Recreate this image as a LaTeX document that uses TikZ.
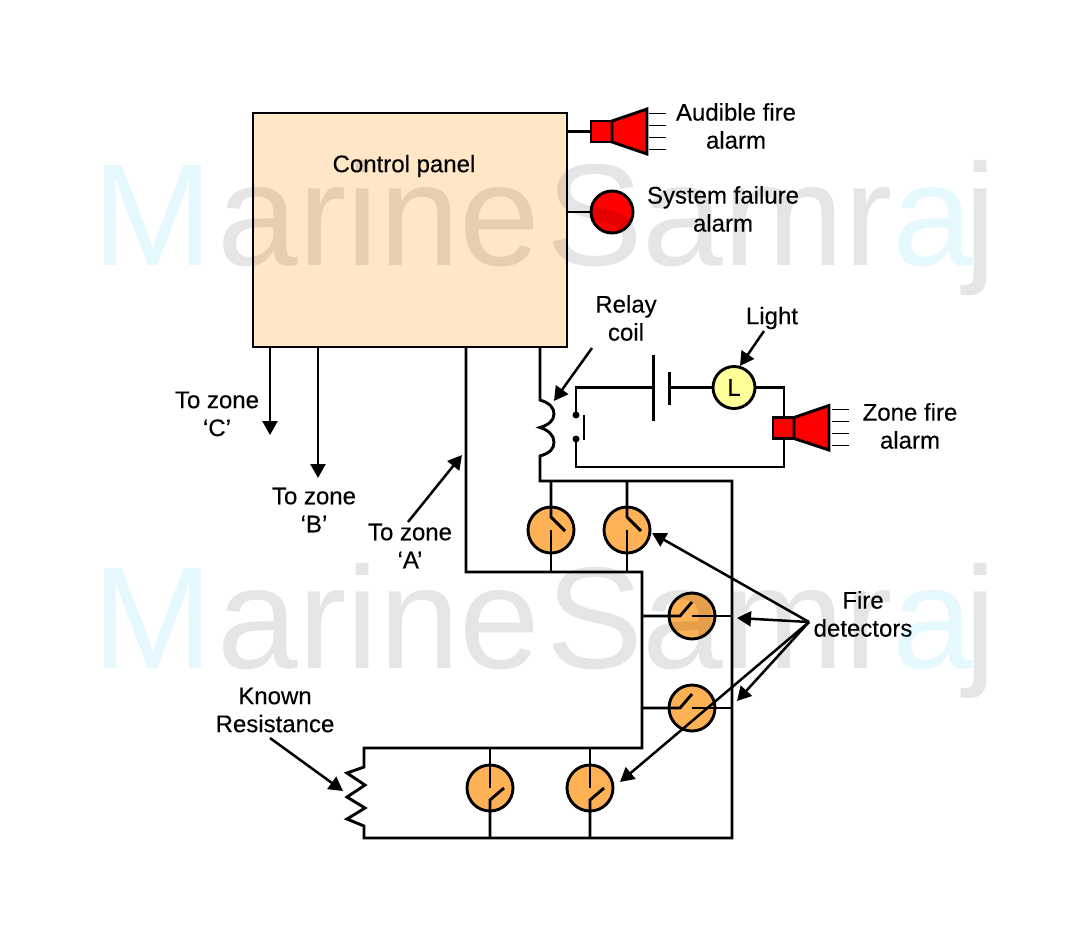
\documentclass[tikz,border=0pt]{standalone}
\usepackage{fontspec}
\setmainfont[FakeBold=0.25]{Liberation Sans}
\newfontfamily\wmfont{Liberation Sans}
\usetikzlibrary{arrows.meta,calc}
\definecolor{panelc}{HTML}{FFE6C6}
\definecolor{detc}{HTML}{FFB155}
\definecolor{lampc}{HTML}{FFFF99}
\definecolor{wmc}{HTML}{00BFEF}
\newcommand{\wmM}{\textcolor{wmc}}
\newcommand{\wmtext}{\wmM{M}\kern5pt arine\kern6pt Samr\wmM{a}\kern-9pt j}
\tikzset{
  wire/.style={line width=2.9pt,line join=miter},
  thin ray/.style={line width=1.4pt},
  ptr/.style={line width=2.5pt,-{Triangle[length=14pt,width=15pt]}},
  detector/.style={circle,draw,line width=2.9pt,fill=detc,minimum size=46pt,inner sep=0pt},
  lab/.style={align=center,font=\fontsize{24}{28}\selectfont,inner sep=0pt},
  hornbox/.style={rectangle,draw,line width=2.9pt,fill=red,minimum width=21pt,minimum height=21pt,inner sep=0pt},
  horncone/.style={draw,line width=2.9pt,fill=red,line join=miter},
  mark wm/.style={text opacity=0.1,text=black,inner sep=0pt,font=\wmfont\fontsize{145}{145}\selectfont}
}
\begin{document}
\begin{tikzpicture}[x=1pt,y=-1pt]
\useasboundingbox[fill=white] (0,0) rectangle (1084,924);
% panel
\node[draw,line width=2.9pt,fill=panelc,minimum width=314pt,minimum height=234pt,inner sep=0pt] (panel) at (410,230) {};
\node[lab] (cp) at (404,166) {Control panel};
% top horn and system failure
\node[hornbox] (hornA) at (601.5,131.5) {};
\draw[horncone] (612,121) -- (647,109) -- (647,154) -- (612,142) -- cycle;
\foreach \y in {113.5,125.5,137.5,149.5} \draw[thin ray] (649,\y) -- (666,\y);
\coordinate (pa) at (567,131.5);
\draw[wire] (pa) -- (hornA);
\node[circle,draw,line width=2.9pt,fill=red,minimum size=42pt,inner sep=0pt] (sysf) at (612,212) {};
\coordinate (pb) at (567,212);
\draw[wire] (pb) -- (sysf);
\node[lab] (audl) at (736,126) {Audible fire\\alarm};
\node[lab] (sysl) at (723,209) {System failure\\alarm};
% zones C B arrows
\coordinate (pc) at (270,347); \coordinate (zc) at (270,435);
\coordinate (pd) at (318,347); \coordinate (zb) at (318,478);
\draw[ptr] (pc) -- (zc);
\draw[ptr] (pd) -- (zb);
\node[lab] (lc) at (217,414) {To zone\\‘C’};
\node[lab] (lb) at (314,510) {To zone\\‘B’};
\node[lab] (la) at (410,546) {To zone\\‘A’};
% main loop
\coordinate (pe) at (540,347);
\coordinate (c1) at (540,400);
\coordinate (c2) at (540,427.5);
\coordinate (c3) at (540,456);
\draw[wire] (pe) -- (c1)
  .. controls (550,403) and (554,408) .. (554,414)
  .. controls (554,421) and (548,425) .. (c2)
  .. controls (548,430) and (554,435) .. (554,442)
  .. controls (554,449) and (550,453) .. (c3)
  -- (540,481) -- (732,481) -- (732,838) -- (364,838) -- (364,826)
  -- (347,819) -- (365,808) -- (347,797) -- (365,785) -- (347,773) -- (364,767)
  -- (364,748) -- (642,748) -- (642,572) -- (466,572) -- (466,347);
% relay circuit
\node[circle,fill=black,minimum size=7pt,inner sep=0pt] (k1) at (576,415) {};
\node[circle,fill=black,minimum size=7pt,inner sep=0pt] (k2) at (576,439) {};
\draw[wire] (584,415) -- (584,440);
\node[circle,draw,line width=2.9pt,fill=lampc,minimum size=42pt,inner sep=0pt,font=\fontsize{24}{24}\selectfont] (lamp) at (734,387.5) {L};
\coordinate (b1) at (653.5,387.5); \coordinate (b2) at (669.5,387.5);
\draw[wire] (653.5,355) -- (653.5,421);
\draw[wire] (669.5,372) -- (669.5,405);
\draw[wire] (k1.center) -- (576,387.5) -- (b1);
\draw[wire] (b2) -- (lamp);
\draw[wire] (lamp) -- (784,387.5) -- (784,467) -- (576,467) -- (k2.center);
\node[hornbox] (hornZ) at (783.5,428) {};
\draw[horncone] (794,417.5) -- (829,405.5) -- (829,450) -- (794,438.5) -- cycle;
\foreach \y in {409.5,421.5,433.5,445.5} \draw[thin ray] (832,\y) -- (849,\y);
% detectors
\node[detector] (d1) at (551,530) {};
\node[detector] (d2) at (627,530) {};
\node[detector] (d3) at (692,616) {};
\node[detector] (d4) at (692,708) {};
\node[detector] (d5) at (490,788) {};
\node[detector] (d6) at (590,788) {};
% vertical, top row
\foreach \d/\jx in {d1/551,d2/627}{
  \draw[wire] (\jx,481) -- ($(\d)+(0,-13)$) -- ($(\d)+(14,1)$);
  \draw[wire] (\d.center) -- (\jx,572);
}
% horizontal
\foreach \d/\jy in {d3/616,d4/708}{
  \draw[wire] (642,\jy) -- ($(\d)+(-12,0)$) -- ($(\d)+(0,-14)$);
  \draw[wire] (\d.center) -- (732,\jy);
}
% bottom row
\foreach \d/\jx in {d5/490,d6/590}{
  \draw[wire] (\jx,748) -- (\d.center);
  \draw[wire] (\jx,838) -- ($(\d)+(0,12)$) -- ($(\d)+(14,0)$);
}
% labels and pointers
\node[lab] (rl) at (626,318) {Relay\\coil};
\node[lab] (ll) at (772,318) {Light};
\node[lab] (zl) at (910,426) {Zone fire\\alarm};
\node[lab] (fl) at (863,614) {Fire\\detectors};
\node[lab] (kl) at (275,710) {Known\\Resistance};
\coordinate (fo) at (809,622);
\coordinate (a1) at (652,533);
\coordinate (a2) at (737,618);
\coordinate (a3) at (737,701);
\coordinate (a4) at (620,782);
\draw[ptr] (fo) -- (a1);
\draw[ptr] (fo) -- (a2);
\draw[ptr] (fo) -- (a3);
\draw[ptr] (fo) -- (a4);
\coordinate (ra0) at (592,348); \coordinate (ra1) at (554,401);
\draw[ptr] (ra0) -- (ra1);
\coordinate (la0) at (764,331); \coordinate (la1) at (740,366);
\draw[ptr] (la0) -- (la1);
\coordinate (ka0) at (270,738); \coordinate (ka1) at (343,791);
\draw[ptr] (ka0) -- (ka1);
\coordinate (aa0) at (408,522); \coordinate (aa1) at (462,455);
\draw[ptr] (aa0) -- (aa1);
% watermark
\node[mark wm,anchor=base west] (wm1) at (92,265) {\wmtext};
\node[mark wm,anchor=base west] (wm2) at (92,668) {\wmtext};
\end{tikzpicture}
\end{document}
